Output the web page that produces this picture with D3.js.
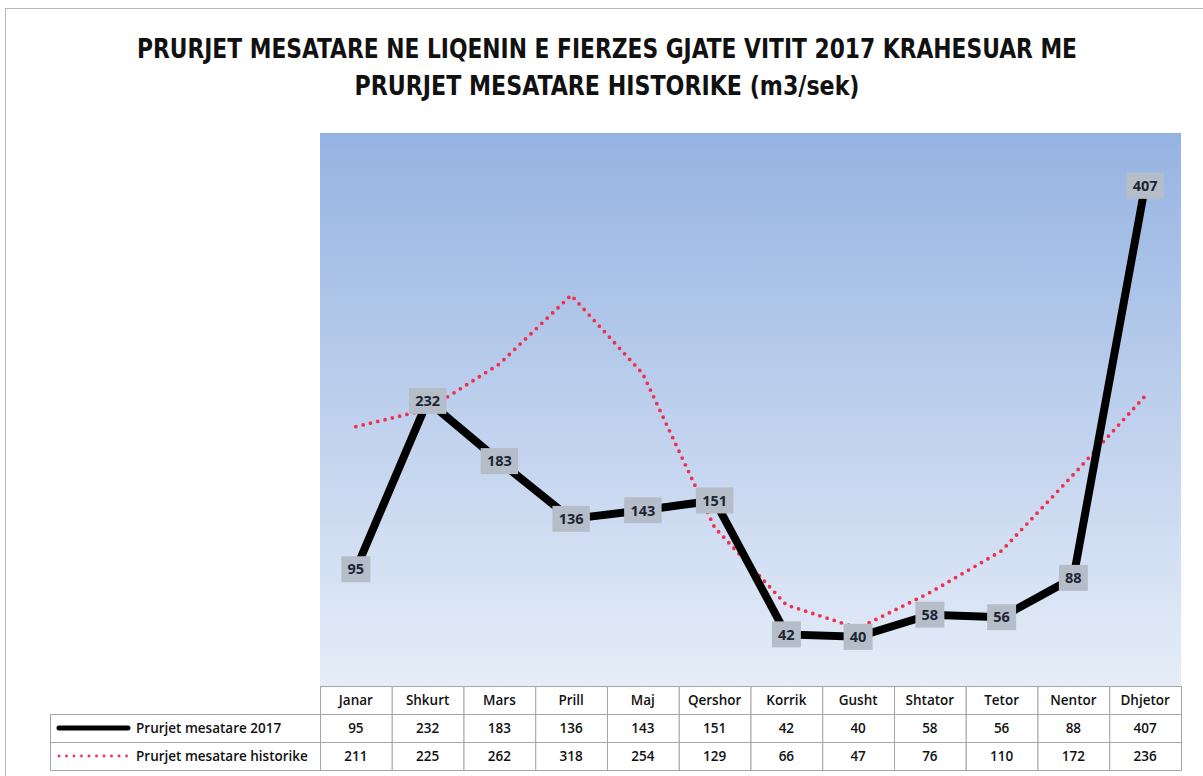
<!DOCTYPE html>
<html>
<head>
<meta charset="utf-8">
<script src="https://cdn.jsdelivr.net/npm/d3@7"></script>
<style>
  body { margin: 0; background: #fff; }
  svg { display: block; }
</style>
</head>
<body>
<div id="grafik"></div>
<script>
const muajt = ["Janar", "Shkurt", "Mars", "Prill", "Maj", "Qershor", "Korrik", "Gusht", "Shtator", "Tetor", "Nentor", "Dhjetor"];
const prurje2017 = [95, 232, 183, 136, 143, 151, 42, 40, 58, 56, 88, 407];
const prurjeHistorike = [211, 225, 262, 318, 254, 129, 66, 47, 76, 110, 172, 236];
const emrat = ["Prurjet mesatare 2017", "Prurjet mesatare historike"];
const titulli = ["PRURJET MESATARE NE LIQENIN E FIERZES GJATE VITIT 2017 KRAHESUAR ME", "PRURJET MESATARE HISTORIKE (m3/sek)"];

const W = 1203, H = 776;
const majtas = 320, djathtas = 1181, lart = 133, poshte = 686;
const rreshtH = 28;
const legjendaX = 50;
const fontTabele = "'Open Sans', sans-serif";

const $svg = d3.select("#grafik").append("svg")
    .attr("width", W).attr("height", H);

// korniza e jashtme
$svg.append("rect")
    .attr("x", 5.5).attr("y", 8.5)
    .attr("width", W + 10).attr("height", H + 10)
    .attr("fill", "none").attr("stroke", "#b8b8b8");

const defs = $svg.append("defs");
const gradient = defs.append("linearGradient")
    .attr("id", "sfond").attr("x1", 0).attr("y1", 0).attr("x2", 0).attr("y2", 1);
gradient.append("stop").attr("offset", "0%").attr("stop-color", "#95b3e2");
gradient.append("stop").attr("offset", "100%").attr("stop-color", "#e6edf8");

$svg.append("rect")
    .attr("x", majtas).attr("y", lart)
    .attr("width", djathtas - majtas).attr("height", poshte - lart)
    .attr("fill", "url(#sfond)");

// titulli
$svg.selectAll("text.titull")
    .data(titulli)
    .enter().append("text")
    .attr("class", "titull")
    .attr("x", 607)
    .attr("y", (d, i) => 58 + i * 37)
    .attr("text-anchor", "middle")
    .attr("font-family", "'Liberation Sans Narrow', 'DejaVu Sans Condensed', sans-serif")
    .attr("font-weight", "bold")
    .attr("font-size", 26)
    .attr("fill", "#111")
    .attr("textLength", (d, i) => i === 0 ? 940 : 505)
    .attr("lengthAdjust", "spacingAndGlyphs")
    .text(d => d);

const x = d3.scaleBand().domain(muajt).range([majtas, djathtas]);
const y = d3.scaleLinear().domain([0, 450]).range([poshte, lart]);
const qendra = m => x(m) + x.bandwidth() / 2;

const vijaHist = d3.line().x((d, i) => qendra(muajt[i])).y(d => y(d));

$svg.append("path")
    .datum(prurjeHistorike)
    .attr("d", vijaHist)
    .attr("fill", "none")
    .attr("stroke", "#f0304f")
    .attr("stroke-width", 3.8)
    .attr("stroke-linecap", "round")
    .attr("stroke-dasharray", "0 7.5");

$svg.append("path")
    .datum(prurje2017)
    .attr("d", vijaHist)
    .attr("fill", "none")
    .attr("stroke", "#000")
    .attr("stroke-width", 8)
    .attr("stroke-linejoin", "miter");

// etiketat e vlerave
const etiketa = $svg.selectAll("g.etiketa")
    .data(prurje2017)
    .enter().append("g")
    .attr("class", "etiketa")
    .attr("transform", (d, i) => `translate(${qendra(muajt[i])},${y(d)})`);

etiketa.append("rect")
    .attr("x", d => -(String(d).length * 8.5 + 12) / 2)
    .attr("y", -13)
    .attr("width", d => String(d).length * 8.5 + 12)
    .attr("height", 26)
    .attr("fill", "#b5bdc9");

etiketa.append("text")
    .attr("text-anchor", "middle")
    .attr("dy", "0.36em")
    .attr("font-family", "'Open Sans', sans-serif")
    .attr("font-weight", "bold")
    .attr("font-size", 14.5)
    .attr("fill", "#1e2633")
    .text(d => d);

// tabela e të dhënave
const tabela = $svg.append("g").attr("class", "tabela");
const vija = "#a6a6a6";

// rreshti i kokës
tabela.selectAll("rect.koka")
    .data(muajt)
    .enter().append("rect")
    .attr("x", d => x(d) + 0.5)
    .attr("y", poshte + 0.5)
    .attr("width", x.bandwidth())
    .attr("height", rreshtH)
    .attr("fill", "#fff")
    .attr("stroke", vija);

tabela.selectAll("text.koka")
    .data(muajt)
    .enter().append("text")
    .attr("x", d => qendra(d))
    .attr("y", poshte + rreshtH / 2 + 5)
    .attr("text-anchor", "middle")
    .attr("font-family", fontTabele)
    .attr("font-weight", 600)
    .attr("font-size", 13.5)
    .attr("fill", "#111")
    .text(d => d);

const seri = [prurje2017, prurjeHistorike];
seri.forEach((vlerat, r) => {
    const yr = poshte + rreshtH * (r + 1);
    tabela.append("rect")
        .attr("x", legjendaX + 0.5).attr("y", yr + 0.5)
        .attr("width", majtas - legjendaX).attr("height", rreshtH)
        .attr("fill", "#fff").attr("stroke", vija);
    tabela.selectAll(null)
        .data(vlerat)
        .enter().append("rect")
        .attr("x", (d, i) => x(muajt[i]) + 0.5)
        .attr("y", yr + 0.5)
        .attr("width", x.bandwidth())
        .attr("height", rreshtH)
        .attr("fill", "#fff")
        .attr("stroke", vija);
    tabela.selectAll(null)
        .data(vlerat)
        .enter().append("text")
        .attr("x", (d, i) => qendra(muajt[i]))
        .attr("y", yr + rreshtH / 2 + 5)
        .attr("text-anchor", "middle")
        .attr("font-family", fontTabele)
        .attr("font-weight", 600)
        .attr("font-size", 13.5)
        .attr("fill", "#111")
        .text(d => d);

    // legjenda
    const lg = tabela.append("line")
        .attr("x1", 59).attr("x2", 128)
        .attr("y1", yr + rreshtH / 2).attr("y2", yr + rreshtH / 2);
    if (r === 0) {
        lg.attr("stroke", "#000").attr("stroke-width", 5).attr("stroke-linecap", "round");
    } else {
        lg.attr("stroke", "#f0304f").attr("stroke-width", 2.8)
            .attr("stroke-linecap", "round").attr("stroke-dasharray", "0 7.5");
    }
    tabela.append("text")
        .attr("x", 136)
        .attr("y", yr + rreshtH / 2 + 5)
        .attr("font-family", fontTabele)
        .attr("font-weight", 600)
        .attr("font-size", 13.5)
        .attr("fill", "#111")
        .text(emrat[r]);
});
</script>
</body>
</html>
